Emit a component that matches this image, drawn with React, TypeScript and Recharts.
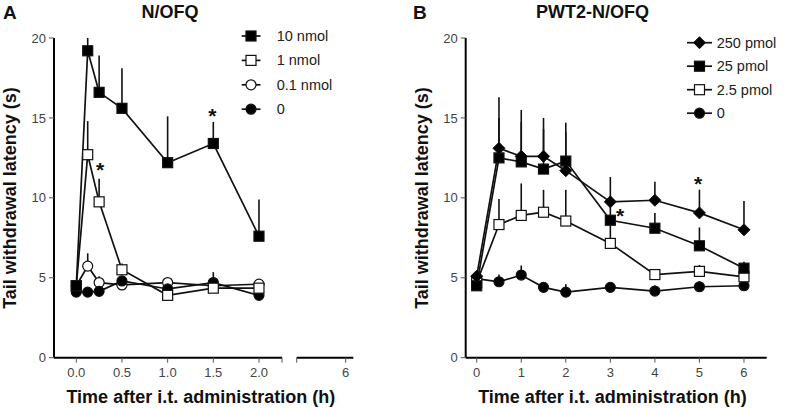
import React from "react";
import { ComposedChart, Line, XAxis, YAxis, ErrorBar, ReferenceDot } from "recharts";

const FONT = "'Liberation Sans', Arial, sans-serif";

// Panel A: N/OFQ, time in hours
const timesA = [0, 0.125, 0.25, 0.5, 1, 1.5, 2];
const a10 = [4.5, 19.2, 16.6, 15.6, 12.2, 13.4, 7.6];
const a10Err = [0, 0.8, 2.3, 2.5, 2.9, 1.35, 2.3];
const a1 = [4.5, 12.7, 9.75, 5.5, 3.9, 4.35, 4.35];
const a1Err = [0, 2.1, 1.45, 0.4, 0, 0, 0];
const a01 = [4.5, 5.73, 4.7, 4.55, 4.7, 4.5, 4.6];
const a01Err = [0, 0.8, 0.4, 0, 0, 0, 0];
const a0 = [4.1, 4.1, 4.15, 4.8, 4.3, 4.7, 3.9];
const a0Err = [0, 0, 0, 0.25, 0, 0.65, 0];
const ticksA = [0, 0.5, 1, 1.5, 2];
const breakTicks = [6];
const starsA = [
  { t: 0.26, v: 12.0 },
  { t: 1.49, v: 15.4 },
];

// Panel B: PWT2-N/OFQ
const timesB = [0, 0.5, 1, 1.5, 2, 3, 4, 5, 6];
const b250 = [5.1, 13.1, 12.6, 12.6, 11.7, 9.75, 9.85, 9.06, 8.0];
const b250Err = [0, 3.2, 2.9, 2.4, 2.4, 1.55, 1.15, 1.45, 1.8];
const b25 = [4.5, 12.5, 12.25, 11.8, 12.3, 8.6, 8.1, 7.0, 5.6];
const b25Err = [0, 2.5, 2.5, 2.5, 2.4, 1.2, 0.95, 1.15, 0.4];
const b2p5 = [4.7, 8.33, 8.9, 9.1, 8.55, 7.15, 5.2, 5.4, 5.06];
const b2p5Err = [0, 1.6, 2.0, 1.4, 1.95, 1.4, 0, 0.4, 0];
const bCtl = [4.95, 4.75, 5.17, 4.4, 4.1, 4.4, 4.17, 4.44, 4.5];
const bCtlErr = [0, 0.45, 0.6, 0, 0.5, 0, 0.35, 0.35, 0];
const ticksB = [0, 1, 2, 3, 4, 5, 6];
const starsB = [
  { t: 3.22, v: 9.1 },
  { t: 4.97, v: 11.1 },
];

const yTicks = [0, 5, 10, 15, 20];

const legendA = [
  { name: "10 nmol", shape: "square", fill: "#000" },
  { name: "1 nmol", shape: "square", fill: "#fff" },
  { name: "0.1 nmol", shape: "circle", fill: "#fff" },
  { name: "0", shape: "circle", fill: "#000" },
];
const legendB = [
  { name: "250 pmol", shape: "diamond", fill: "#000" },
  { name: "25 pmol", shape: "square", fill: "#000" },
  { name: "2.5 pmol", shape: "square", fill: "#fff" },
  { name: "0", shape: "circle", fill: "#000" },
];

const dataA = timesA.map((t, i) => ({
  t,
  a10: a10[i],
  a10e: [0, a10Err[i]],
  a1: a1[i],
  a1e: [0, a1Err[i]],
  a01: a01[i],
  a01e: [0, a01Err[i]],
  a0: a0[i],
  a0e: [0, a0Err[i]],
}));

const dataB = timesB.map((t, i) => ({
  t,
  b250: b250[i],
  b250e: [0, b250Err[i]],
  b25: b25[i],
  b25e: [0, b25Err[i]],
  b2p5: b2p5[i],
  b2p5e: [0, b2p5Err[i]],
  bCtl: bCtl[i],
  bCtle: [0, bCtlErr[i]],
}));

function Marker({ shape, fill, cx, cy }: any) {
  const stroke = "#111";
  if (shape === "square") {
    return <rect x={cx - 5} y={cy - 5} width={10} height={10} fill={fill} stroke={stroke} strokeWidth={1.2} />;
  }
  if (shape === "diamond") {
    return (
      <path
        d={`M${cx},${cy - 6}L${cx + 6},${cy}L${cx},${cy + 6}L${cx - 6},${cy}Z`}
        fill={fill}
        stroke={stroke}
        strokeWidth={1}
      />
    );
  }
  return <circle cx={cx} cy={cy} r={5} fill={fill} stroke={stroke} strokeWidth={1.2} />;
}

const dot = (shape: string, fill: string) => (p: any) => {
  if (p.cx == null || p.cy == null) return <g key={`d-${p.index}`} />;
  return (
    <g key={`d-${p.index}`}>
      <Marker shape={shape} fill={fill} cx={p.cx} cy={p.cy} />
    </g>
  );
};

const star = (p: any) => (
  <text x={p.cx} y={p.cy} dy={11} textAnchor="middle" fontSize={21} fontWeight="bold" fontFamily={FONT} fill="#111">
    *
  </text>
);

const axisLine = { stroke: "#000", strokeWidth: 2 };
const tickLine = { stroke: "#555" };
const tickStyle = { fill: "#444", fontSize: 13, fontFamily: FONT };

function series(key: string, shape: string, fill: string) {
  return (
    <Line
      key={key}
      dataKey={key}
      type="linear"
      stroke="#111"
      strokeWidth={1.7}
      dot={dot(shape, fill)}
      activeDot={false}
      isAnimationActive={false}
    >
      <ErrorBar dataKey={`${key}e`} width={0} stroke="#111" strokeWidth={1.6} direction="y" />
    </Line>
  );
}

function Legend({ items, cx, x1, x2, tx, y0, step }: any) {
  return (
    <svg width={788} height={140} style={{ position: "absolute", left: 0, top: 0, overflow: "visible" }}>
      {items.map((it: any, i: number) => {
        const y = y0 + i * step;
        return (
          <g key={it.name}>
            <line x1={x1} x2={x2} y1={y} y2={y} stroke="#111" strokeWidth={1.7} />
            <Marker shape={it.shape} fill={it.fill} cx={cx} cy={y} />
            <text x={tx} y={y} dy="0.35em" fontSize={14.5} fontFamily={FONT} fill="#222">
              {it.name}
            </text>
          </g>
        );
      })}
    </svg>
  );
}

const txt = (s: React.CSSProperties): React.CSSProperties => ({
  position: "absolute",
  fontFamily: FONT,
  fontWeight: "bold",
  color: "#111",
  whiteSpace: "nowrap",
  lineHeight: 1,
  ...s,
});

export default function App() {
  return (
    <div style={{ position: "absolute", left: 0, top: 0, width: 788, height: 409, background: "#fff", overflow: "hidden" }}>
      <div style={{ position: "absolute", left: 0, top: 0 }}>
        <ComposedChart width={300} height={409} data={dataA} margin={{ top: 38, right: 18, bottom: 21.3, left: 0 }}>
          <XAxis
            dataKey="t"
            type="number"
            domain={[-0.244, 2.252]}
            ticks={[...ticksA, 2.252]}
            interval={0}
            allowDataOverflow
            tickFormatter={(v: number) => (ticksA.includes(v) ? v.toFixed(1) : "")}
            height={30}
            axisLine={axisLine}
            tickLine={tickLine}
            tickSize={5}
            tickMargin={5}
            tick={tickStyle}
          />
          <YAxis
            type="number"
            domain={[0, 20]}
            ticks={yTicks}
            interval={0}
            width={54}
            axisLine={axisLine}
            tickLine={tickLine}
            tickSize={5}
            tickMargin={3}
            tick={tickStyle}
          />
          {series("a01", "circle", "#fff")}
          {series("a0", "circle", "#000")}
          {series("a1", "square", "#fff")}
          {series("a10", "square", "#000")}
          {starsA.map((s) => (
            <ReferenceDot key={`sa${s.t}`} x={s.t} y={s.v} r={0} shape={star} ifOverflow="visible" />
          ))}
        </ComposedChart>
      </div>
      <div style={{ position: "absolute", left: 290, top: 0 }}>
        <ComposedChart
          width={70}
          height={409}
          data={breakTicks.map((t) => ({ t }))}
          margin={{ top: 38, right: 6.7, bottom: 21.3, left: 6.7 }}
        >
          <XAxis
            dataKey="t"
            type="number"
            domain={[5.464, 6.083]}
            ticks={[5.464, ...breakTicks]}
            interval={0}
            allowDataOverflow
            tickFormatter={(v: number) => (breakTicks.includes(v) ? String(v) : "")}
            height={30}
            axisLine={axisLine}
            tickLine={tickLine}
            tickSize={5}
            tickMargin={5}
            tick={tickStyle}
          />
          <YAxis hide domain={[0, 20]} />
        </ComposedChart>
      </div>
      <div style={{ position: "absolute", left: 400, top: 0 }}>
        <ComposedChart width={388} height={409} data={dataB} margin={{ top: 38, right: 21.3, bottom: 21.3, left: 0 }}>
          <XAxis
            dataKey="t"
            type="number"
            domain={[-0.247, 6.51]}
            ticks={ticksB}
            interval={0}
            allowDataOverflow
            height={30}
            axisLine={axisLine}
            tickLine={tickLine}
            tickSize={5}
            tickMargin={5}
            tick={tickStyle}
          />
          <YAxis
            type="number"
            domain={[0, 20]}
            ticks={yTicks}
            interval={0}
            width={65.7}
            axisLine={axisLine}
            tickLine={tickLine}
            tickSize={5}
            tickMargin={3}
            tick={tickStyle}
          />
          {series("bCtl", "circle", "#000")}
          {series("b2p5", "square", "#fff")}
          {series("b25", "square", "#000")}
          {series("b250", "diamond", "#000")}
          {starsB.map((s) => (
            <ReferenceDot key={`sb${s.t}`} x={s.t} y={s.v} r={0} shape={star} ifOverflow="visible" />
          ))}
        </ComposedChart>
      </div>

      <Legend items={legendA} cx={251} x1={241.7} x2={260.5} tx={276.7} y0={36} step={24.4} />
      <Legend items={legendB} cx={699.5} x1={687} x2={712} tx={716.7} y0={42.7} step={23.5} />

      <div style={txt({ left: 3, top: 3, fontSize: 19 })}>A</div>
      <div style={txt({ left: 170, top: 12, fontSize: 18, transform: "translate(-50%,-50%)" })}>N/OFQ</div>
      <div style={txt({ left: 413, top: 3, fontSize: 19 })}>B</div>
      <div style={txt({ left: 592.5, top: 12, fontSize: 18, transform: "translate(-50%,-50%)" })}>PWT2-N/OFQ</div>

      <div style={txt({ left: 10.3, top: 198, fontSize: 18, transform: "translate(-50%,-50%) rotate(-90deg)" })}>
        Tail withdrawal latency (s)
      </div>
      <div style={txt({ left: 421.5, top: 198, fontSize: 18, transform: "translate(-50%,-50%) rotate(-90deg)" })}>
        Tail withdrawal latency (s)
      </div>
      <div style={txt({ left: 200.8, top: 397, fontSize: 18, transform: "translate(-50%,-50%)" })}>
        Time after i.t. administration (h)
      </div>
      <div style={txt({ left: 612.5, top: 397, fontSize: 18, transform: "translate(-50%,-50%)" })}>
        Time after i.t. administration (h)
      </div>
    </div>
  );
}
